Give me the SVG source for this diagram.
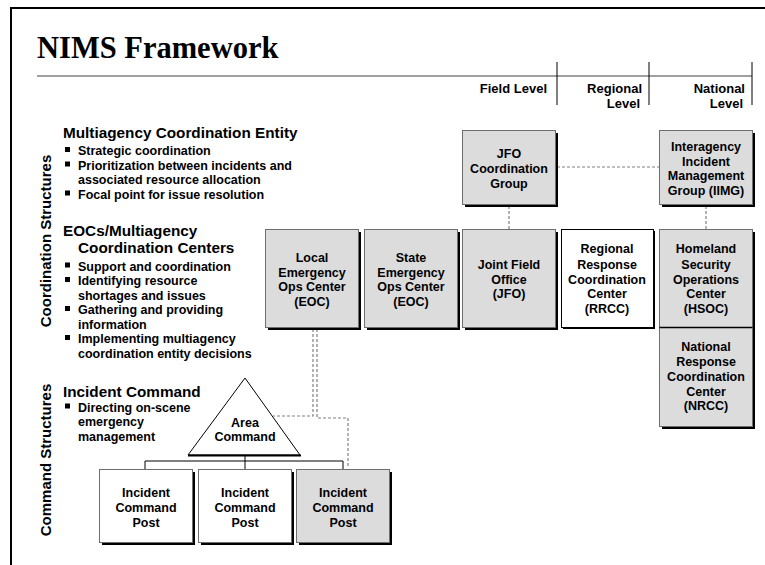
<svg xmlns="http://www.w3.org/2000/svg" width="765" height="565" viewBox="0 0 765 565">
<defs>
<style>
.t{font-family:"Liberation Sans",Arial,sans-serif;font-weight:bold;fill:#000}
.bt{font-size:12.5px;text-anchor:middle}
.hd{font-size:15.3px}
.bl{font-size:12.5px}
.lv{font-size:13px;text-anchor:end}
.side{font-size:15px;text-anchor:middle}
.gbox{fill:#dcdcdc;stroke:#6e6e6e;stroke-width:1}
.wbox{fill:#fff;stroke:#6e6e6e;stroke-width:1}
.sh{fill:#000}
.dash{fill:none;stroke:#808080;stroke-width:1.2;stroke-dasharray:3,2}
.tree{fill:none;stroke:#000;stroke-width:1}
</style>
</defs>
<rect width="765" height="565" fill="#fff"/>
<path d="M11,565 V8 H765" fill="none" stroke="#000" stroke-width="2"/>
<text x="37" y="58" font-family="'Liberation Serif','Times New Roman',serif" font-weight="bold" font-size="30.5">NIMS Framework</text>
<line x1="37" y1="76" x2="752" y2="76" stroke="#808080" stroke-width="1.5"/>
<g stroke="#000" stroke-width="1">
<line x1="557" y1="62" x2="557" y2="105"/>
<line x1="649" y1="62" x2="649" y2="105"/>
<line x1="752" y1="62" x2="752" y2="105"/>
</g>
<g class="t lv">
<text x="547" y="93">Field Level</text>
<text x="642" y="93">Regional</text>
<text x="640" y="108">Level</text>
<text x="745" y="93">National</text>
<text x="743" y="108">Level</text>
</g>
<text class="t side" transform="translate(51,241) rotate(-90)">Coordination Structures</text>
<text class="t side" transform="translate(51,460) rotate(-90)">Command Structures</text>
<g class="t">
<text class="hd" x="63" y="138">Multiagency Coordination Entity</text>
<g class="bl">
<text x="78" y="155">Strategic coordination</text>
<text x="78" y="169.5">Prioritization between incidents and</text>
<text x="78" y="184">associated resource allocation</text>
<text x="78" y="198.5">Focal point for issue resolution</text>
</g>
<text class="hd" x="63" y="236">EOCs/Multiagency</text>
<text class="hd" x="78" y="253">Coordination Centers</text>
<g class="bl">
<text x="78" y="270.5">Support and coordination</text>
<text x="78" y="285">Identifying resource</text>
<text x="78" y="299.5">shortages and issues</text>
<text x="78" y="314">Gathering and providing</text>
<text x="78" y="328.5">information</text>
<text x="78" y="343">Implementing multiagency</text>
<text x="78" y="357.5">coordination entity decisions</text>
</g>
<text class="hd" x="63" y="397">Incident Command</text>
<g class="bl">
<text x="78" y="411.5">Directing on-scene</text>
<text x="78" y="426">emergency</text>
<text x="78" y="440.5">management</text>
</g>
</g>
<g fill="#000">
<rect x="65" y="147" width="5" height="5"/>
<rect x="65" y="161.5" width="5" height="5"/>
<rect x="65" y="190.5" width="5" height="5"/>
<rect x="65" y="262.5" width="5" height="5"/>
<rect x="65" y="277" width="5" height="5"/>
<rect x="65" y="306" width="5" height="5"/>
<rect x="65" y="335" width="5" height="5"/>
<rect x="65" y="403.5" width="5" height="5"/>
</g>
<g id="connectors">
<path class="dash" d="M509,206 V229"/>
<path class="dash" d="M706,206 V229"/>
<path class="dash" d="M557,167 H659"/>
<path class="dash" d="M313,329 V416 H273"/>
<path class="dash" d="M317,329 V418 H348 V468"/>
<path class="tree" d="M245,455 V461 M145,469 V461 H343 V469 M245,461 V469"/>
</g>
<g id="jfo-cg">
<rect class="sh" x="465" y="133" width="93" height="74"/>
<rect class="gbox" x="462.5" y="130.5" width="93" height="74"/>
<text class="t bt" x="509" y="157.5">JFO</text>
<text class="t bt" x="509" y="172.5">Coordination</text>
<text class="t bt" x="509" y="187.5">Group</text>
</g>
<g id="iimg">
<rect class="sh" x="662" y="133" width="93" height="74"/>
<rect class="gbox" x="659.5" y="130.5" width="93" height="74"/>
<text class="t bt" x="706" y="150.5">Interagency</text>
<text class="t bt" x="706" y="165.5">Incident</text>
<text class="t bt" x="706" y="180">Management</text>
<text class="t bt" x="706" y="194.5">Group (IIMG)</text>
</g>
<g id="local-eoc">
<rect class="sh" x="268" y="232" width="93" height="98"/>
<rect class="gbox" x="265.5" y="229.5" width="93" height="98"/>
<text class="t bt" x="312" y="261.5">Local</text>
<text class="t bt" x="312" y="276.5">Emergency</text>
<text class="t bt" x="312" y="291">Ops Center</text>
<text class="t bt" x="312" y="306">(EOC)</text>
</g>
<g id="state-eoc">
<rect class="sh" x="367" y="232" width="93" height="98"/>
<rect class="gbox" x="364.5" y="229.5" width="93" height="98"/>
<text class="t bt" x="411" y="261.5">State</text>
<text class="t bt" x="411" y="276.5">Emergency</text>
<text class="t bt" x="411" y="291">Ops Center</text>
<text class="t bt" x="411" y="306">(EOC)</text>
</g>
<g id="jfo">
<rect class="sh" x="465" y="232" width="93" height="98"/>
<rect class="gbox" x="462.5" y="229.5" width="93" height="98"/>
<text class="t bt" x="509" y="268.5">Joint Field</text>
<text class="t bt" x="509" y="283.5">Office</text>
<text class="t bt" x="509" y="297.5">(JFO)</text>
</g>
<g id="rrcc">
<rect class="sh" x="563" y="231" width="92" height="98"/>
<rect x="561.5" y="229.5" width="92" height="98" fill="#fff" stroke="#000" stroke-width="1"/>
<text class="t bt" x="607" y="252.5">Regional</text>
<text class="t bt" x="607" y="268.5">Response</text>
<text class="t bt" x="607" y="283.5">Coordination</text>
<text class="t bt" x="607" y="297.5">Center</text>
<text class="t bt" x="607" y="312.5">(RRCC)</text>
</g>
<g id="hsoc">
<rect class="sh" x="662" y="232" width="93" height="197"/>
<rect class="gbox" x="659.5" y="229.5" width="93" height="98"/>
<text class="t bt" x="706" y="252.5">Homeland</text>
<text class="t bt" x="706" y="268.5">Security</text>
<text class="t bt" x="706" y="283.5">Operations</text>
<text class="t bt" x="706" y="297.5">Center</text>
<text class="t bt" x="706" y="312.5">(HSOC)</text>
</g>
<g id="nrcc">
<rect class="gbox" x="659.5" y="327.5" width="93" height="99"/>
<line x1="659.5" y1="327.5" x2="752.5" y2="327.5" stroke="#000" stroke-width="1.5"/>
<text class="t bt" x="706" y="350.5">National</text>
<text class="t bt" x="706" y="365.5">Response</text>
<text class="t bt" x="706" y="380.5">Coordination</text>
<text class="t bt" x="706" y="395.5">Center</text>
<text class="t bt" x="706" y="409.5">(NRCC)</text>
</g>
<g id="area-command">
<polygon points="245,378 300,455 188,455" fill="#fff" stroke="#000" stroke-width="1"/>
<line x1="188" y1="455.5" x2="301" y2="455.5" stroke="#000" stroke-width="2"/>
<text class="t bt" x="245" y="426.5">Area</text>
<text class="t bt" x="245" y="440.5">Command</text>
</g>
<g id="icp1">
<rect class="sh" x="102" y="472" width="93" height="73"/>
<rect class="wbox" x="99.5" y="469.5" width="93" height="73"/>
<text class="t bt" x="146" y="496.5">Incident</text>
<text class="t bt" x="146" y="511.5">Command</text>
<text class="t bt" x="146" y="526.5">Post</text>
</g>
<g id="icp2">
<rect class="sh" x="201" y="472" width="93" height="73"/>
<rect class="wbox" x="198.5" y="469.5" width="93" height="73"/>
<text class="t bt" x="245" y="496.5">Incident</text>
<text class="t bt" x="245" y="511.5">Command</text>
<text class="t bt" x="245" y="526.5">Post</text>
</g>
<g id="icp3">
<rect class="sh" x="299" y="472" width="93" height="73"/>
<rect class="gbox" x="296.5" y="469.5" width="93" height="73"/>
<text class="t bt" x="343" y="496.5">Incident</text>
<text class="t bt" x="343" y="511.5">Command</text>
<text class="t bt" x="343" y="526.5">Post</text>
</g>
</svg>
